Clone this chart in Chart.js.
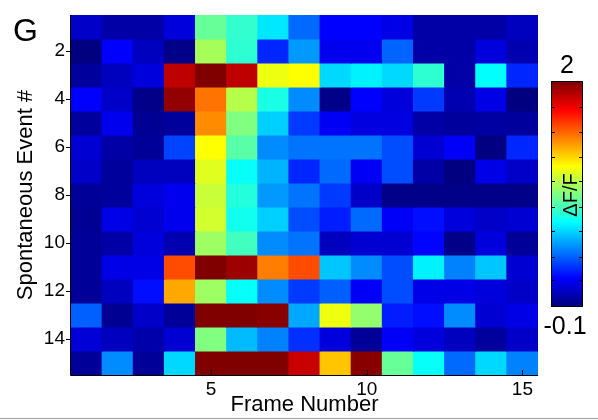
<!DOCTYPE html>
<html><head><meta charset="utf-8">
<script src="https://cdn.jsdelivr.net/npm/chart.js@4/dist/chart.umd.min.js"></script>
<style>html,body{margin:0;padding:0;background:#fff}#wrap{width:598px;height:420px;position:relative}</style>
</head><body><div id="wrap"><canvas id="c" width="598" height="420"></canvas></div>
<script>
// ---- data ----
const frames = [1,2,3,4,5,6,7,8,9,10,11,12,13,14,15];
const events = [1,2,3,4,5,6,7,8,9,10,11,12,13,14,15];
const xTickLabels = [5,10,15];
const yTickLabels = [2,4,6,8,10,12,14];
const colorMin = -0.1;
const colorMax = 2;
const colorbarTicks = [1.77,1.53,1.30,1.07,0.83,0.60,0.36,0.14];

// ΔF/F per spontaneous event (row), frames 1..15
const event01 = [0.05,-0.02,-0.02,0.09,0.90,0.79,0.64,0.38,0.16,0.16,0.11,-0.02,-0.02,-0.02,0.03];
const event02 = [-0.10,0.16,0.03,-0.08,1.03,0.78,0.24,0.48,0.13,0.13,0.37,-0.02,-0.02,0.09,0.00];
const event03 = [-0.04,0.03,0.09,1.87,2.00,1.87,1.18,1.21,0.61,0.66,0.61,0.78,-0.02,0.69,0.24];
const event04 = [0.16,0.05,-0.08,1.96,1.50,1.06,0.74,0.45,-0.08,0.16,0.09,0.28,0.00,0.11,-0.10];
const event05 = [-0.04,0.13,-0.06,-0.04,1.45,0.95,0.59,0.28,0.14,0.10,0.10,-0.02,-0.04,-0.03,-0.04];
const event06 = [0.07,-0.02,-0.05,0.30,1.21,0.87,0.45,0.40,0.40,0.40,0.32,0.07,0.15,-0.10,0.24];
const event07 = [0.05,-0.04,0.03,0.03,1.15,0.70,0.53,0.24,0.38,0.14,0.32,-0.02,-0.10,0.11,0.05];
const event08 = [-0.05,-0.04,0.09,0.13,1.10,0.76,0.48,0.40,0.28,0.05,-0.08,-0.08,-0.08,-0.08,-0.08];
const event09 = [-0.06,0.11,0.07,0.13,1.12,0.72,0.59,0.32,0.22,0.38,0.15,0.19,0.09,0.05,0.07];
const event10 = [-0.05,-0.02,0.09,0.00,1.01,0.82,0.45,0.40,0.03,0.07,0.07,0.17,-0.08,0.09,-0.05];
const event11 = [-0.05,0.11,0.11,1.58,2.00,1.94,1.48,1.58,0.57,0.45,0.32,0.66,0.43,0.57,0.07];
const event12 = [-0.05,0.03,0.19,1.39,1.01,0.70,0.45,0.28,0.36,0.15,0.32,0.11,0.11,0.09,0.05];
const event13 = [0.36,-0.06,0.05,-0.05,2.00,2.00,1.98,0.51,1.18,0.99,0.22,0.19,0.45,0.07,0.11];
const event14 = [0.08,0.03,-0.01,0.07,0.95,0.55,0.43,0.26,0.09,-0.05,0.15,0.09,0.03,-0.04,0.05];
const event15 = [-0.05,0.45,-0.05,0.61,2.00,2.00,2.00,1.85,1.33,1.98,0.90,0.70,0.38,0.61,0.43];
const dff = [event01,event02,event03,event04,event05,event06,event07,event08,event09,event10,event11,event12,event13,event14,event15];

// ---- colour map (jet) ----
function clamp01(v){return Math.max(0,Math.min(1,v));}
function jetT(t){
  t = clamp01(t);
  const r = clamp01(1.5-Math.abs(4*t-3)), g = clamp01(1.5-Math.abs(4*t-2)), b = clamp01(1.5-Math.abs(4*t-1));
  return 'rgb('+Math.round(r*255)+','+Math.round(g*255)+','+Math.round(b*255)+')';
}
function jet(v){return jetT((v-colorMin)/(colorMax-colorMin));}

const FONT = '"Liberation Sans", Arial, Helvetica, sans-serif';

const datasets = events.map((ev,i)=>({
  data: frames.map(f=>({x:f, y:[ev-0.5, ev+0.5]})),
  backgroundColor: dff[i].map(jet),
  borderWidth: 0,
  grouped: false,
  barPercentage: 1,
  categoryPercentage: 1,
  inflateAmount: 0.5
}));

const decor = {
  id: 'decor',
  afterDatasetsDraw(chart){
    const {ctx, chartArea: ca, scales: {x}} = chart;
    ctx.save();
    ctx.strokeStyle = '#000'; ctx.lineWidth = 1;
    // inward x ticks
    xTickLabels.forEach(v=>{
      const px = Math.round(x.getPixelForValue(v))+0.5;
      ctx.beginPath(); ctx.moveTo(px, ca.bottom); ctx.lineTo(px, ca.bottom-5); ctx.stroke();
    });
    // axis lines
    ctx.beginPath();
    ctx.moveTo(ca.left-0.5, ca.top); ctx.lineTo(ca.left-0.5, ca.bottom+0.5);
    ctx.lineTo(ca.right, ca.bottom+0.5);
    ctx.stroke();
    ctx.restore();
  },
  afterDraw(chart){
    const ctx = chart.ctx;
    ctx.save();
    // colorbar
    const cx0 = 552, cx1 = 582, cy0 = 82, cy1 = 306;
    const grad = ctx.createLinearGradient(0, cy1, 0, cy0);
    for(let k=0;k<=64;k++){ grad.addColorStop(k/64, jetT(k/64)); }
    ctx.fillStyle = grad;
    ctx.fillRect(cx0, cy0, cx1-cx0, cy1-cy0);
    ctx.strokeStyle = '#000'; ctx.lineWidth = 1;
    ctx.strokeRect(cx0-0.5, cy0-0.5, cx1-cx0+1, cy1-cy0+1);
    colorbarTicks.forEach(v=>{
      const py = Math.round(cy1 - (v-colorMin)/(colorMax-colorMin)*(cy1-cy0))+0.5;
      ctx.beginPath();
      ctx.moveTo(cx0, py); ctx.lineTo(cx0+3, py);
      ctx.moveTo(cx1, py); ctx.lineTo(cx1-3, py);
      ctx.stroke();
    });
    ctx.fillStyle = '#000';
    ctx.font = '25px ' + FONT;
    ctx.textAlign = 'center'; ctx.textBaseline = 'alphabetic';
    ctx.fillText(String(colorMax), 567, 73);
    ctx.fillText(String(colorMin), 565, 334);
    // colorbar label
    ctx.save();
    ctx.translate(577, 195);
    ctx.rotate(-Math.PI/2);
    ctx.font = '20px ' + FONT;
    ctx.textAlign = 'center'; ctx.textBaseline = 'alphabetic';
    ctx.fillText('\u0394F/F', 0, 0);
    ctx.restore();
    // panel letter
    ctx.font = '32px ' + FONT;
    ctx.textAlign = 'left';
    ctx.fillText('G', 13, 41);
    // bottom frame line
    ctx.strokeStyle = '#a0a0a0';
    ctx.beginPath(); ctx.moveTo(0, 418.5); ctx.lineTo(598, 418.5); ctx.stroke();
    ctx.restore();
  }
};

new Chart(document.getElementById('c'), {
  type: 'bar',
  data: { datasets },
  options: {
    responsive: false,
    animation: false,
    devicePixelRatio: 1,
    layout: { padding: { top: 15, right: 60, left: 0, bottom: 0 } },
    plugins: { legend: { display: false }, tooltip: { enabled: false } },
    scales: {
      x: {
        type: 'linear', offset: false, min: 0.5, max: 15.5,
        afterBuildTicks: s => { s.ticks = xTickLabels.map(v=>({value:v})); },
        afterFit: s => { s.height = 45; },
        grid: { display: false },
        border: { display: false },
        ticks: { color: '#000', padding: -5, font: { family: FONT, size: 19 }, maxRotation: 0 },
        title: { display: true, text: 'Frame Number', color: '#000', font: { family: FONT, size: 22 }, padding: { top: 0, bottom: 2 } }
      },
      y: {
        type: 'linear', reverse: true, min: 0.5, max: 15.5,
        afterBuildTicks: s => { s.ticks = yTickLabels.map(v=>({value:v})); },
        afterFit: s => { s.width = 71; },
        grid: { drawOnChartArea: false, drawTicks: true, tickLength: 5, color: '#000' },
        border: { display: false },
        ticks: { color: '#000', padding: 1, font: { family: FONT, size: 19 } },
        title: { display: true, text: 'Spontaneous Event #', color: '#000', font: { family: FONT, size: 22 }, padding: { top: 13, bottom: 0 } }
      }
    }
  },
  plugins: [decor]
});
</script>
</body></html>
